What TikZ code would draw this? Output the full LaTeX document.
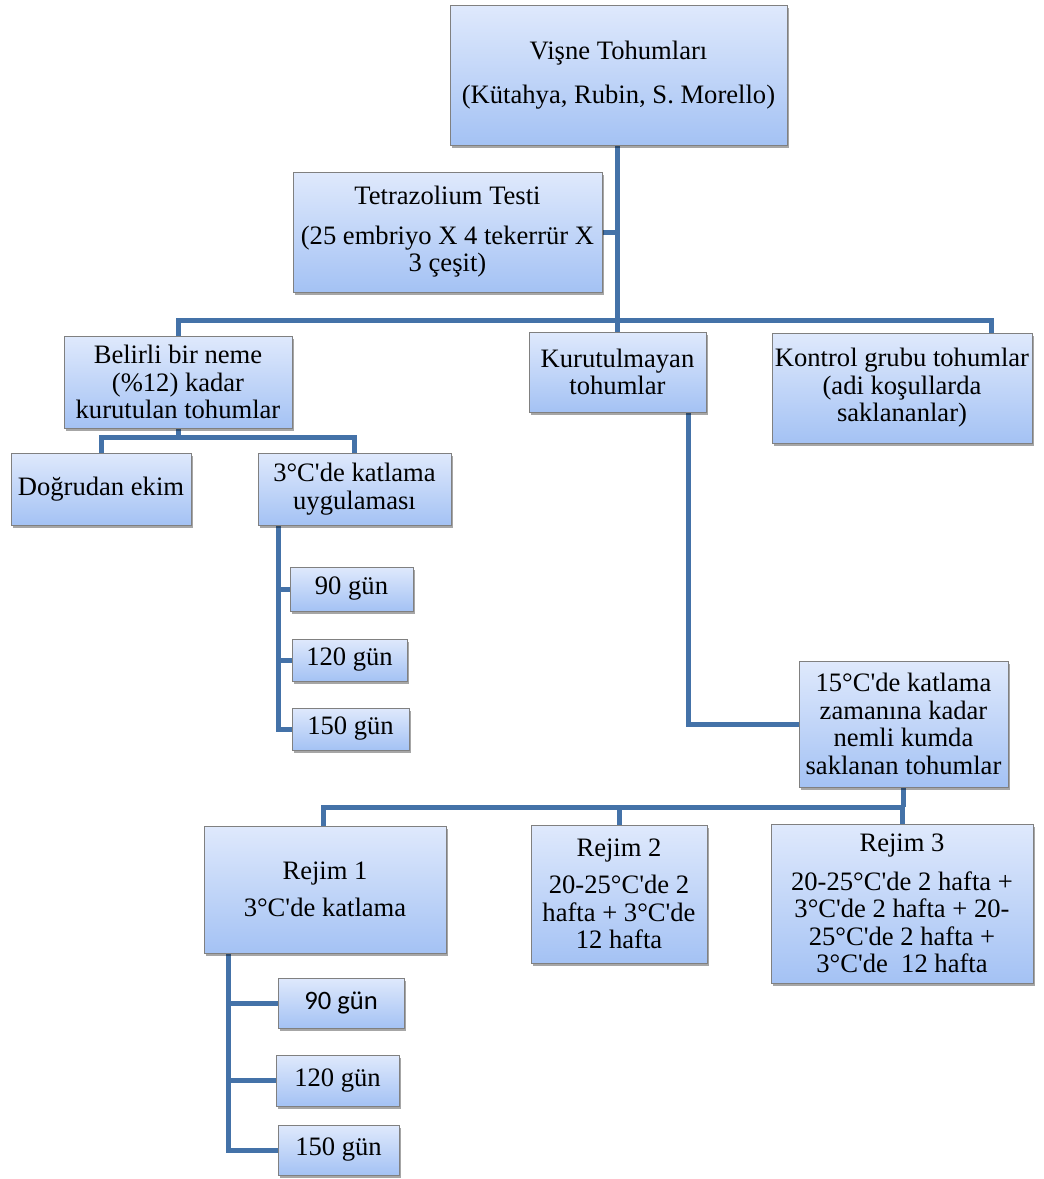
\documentclass[tikz,border=0pt]{standalone}
\usepackage{fontspec}
\setmainfont{Liberation Serif}
\newfontfamily\calib{Carlito}
\newcommand{\apo}{\textquotesingle}
\usetikzlibrary{shadows,backgrounds}
\definecolor{boxtop}{RGB}{223,233,252}
\definecolor{boxbot}{RGB}{164,194,244}
\definecolor{boxline}{RGB}{128,128,128}
\definecolor{connc}{RGB}{68,114,168}
\begin{document}
\begin{tikzpicture}[x=1pt,y=-1pt,
  box/.style={draw=boxline, line width=0.8pt, top color=boxtop, bottom color=boxbot,
    drop shadow={shadow xshift=2pt, shadow yshift=-3pt, opacity=0.35, fill=black},
    align=center, inner sep=0pt, font=\fontsize{26.6}{27.5}\selectfont},
  conn/.style={draw=connc, line width=5pt}]
\useasboundingbox (0,0) rectangle (1044,1179);

\node[box, minimum width=337pt, minimum height=140pt] (root) at (618.5,75) {Vişne Tohumları\\[17pt](Kütahya, Rubin, S. Morello)};
\node[box, minimum width=309pt, minimum height=120pt] (tet) at (447.5,232) {Tetrazolium Testi\\[12pt](25 embriyo X 4 tekerrür X\\3 çeşit)};
\node[box, minimum width=228pt, minimum height=92pt] (bel) at (178,382) {Belirli bir neme\\(\%12) kadar\\kurutulan tohumlar};
\node[box, minimum width=177pt, minimum height=80pt] (kur) at (617.5,372) {Kurutulmayan\\tohumlar};
\node[box, minimum width=260pt, minimum height=110pt] (kon) at (902,388) {Kontrol grubu tohumlar\\(adi koşullarda\\saklananlar)};
\node[box, minimum width=180pt, minimum height=72pt] (dog) at (101,489) {Doğrudan ekim};
\node[box, minimum width=193pt, minimum height=72pt] (kat) at (354.5,489) {3°C\apo de katlama\\uygulaması};
\node[box, minimum width=123pt, minimum height=44pt] (g90a) at (351.5,589) {90 gün};
\node[box, minimum width=115pt, minimum height=42pt] (g120a) at (349.5,660) {120 gün};
\node[box, minimum width=117pt, minimum height=42pt] (g150a) at (350.5,729) {150 gün};
\node[box, minimum width=209pt, minimum height=126pt] (k15) at (903.5,724) {15°C\apo de katlama\\zamanına kadar\\nemli kumda\\saklanan tohumlar};
\node[box, minimum width=242pt, minimum height=127pt] (r1) at (325,889.5) {Rejim 1\\[10pt]3°C\apo de katlama};
\node[box, minimum width=176pt, minimum height=138pt] (r2) at (619,894) {Rejim 2\\[10pt]20-25°C\apo de 2\\hafta + 3°C\apo de\\12 hafta};
\node[box, minimum width=262pt, minimum height=159pt] (r3) at (902,903.5) {Rejim 3\\[11pt]20-25°C\apo de 2 hafta +\\3°C\apo de 2 hafta + 20-\\25°C\apo de 2 hafta +\\3°C\apo de\ \ 12 hafta};
\node[box, minimum width=126pt, minimum height=50pt] (g90b) at (341,1003) {\calib 90 gün};
\node[box, minimum width=123pt, minimum height=51pt] (g120b) at (337.5,1080.5) {120 gün};
\node[box, minimum width=121pt, minimum height=50pt] (g150b) at (338.5,1150) {150 gün};

\coordinate (bus1) at (617,320);
\coordinate (kx) at (991,0);
\coordinate (bus2) at (0,437);
\coordinate (kx2) at (278,0);
\coordinate (kx3) at (688,0);
\coordinate (bus3) at (0,807);
\coordinate (kx4) at (228,0);
\coordinate (kx5) at (323,0);

\begin{scope}[on background layer]
\fill[white] (0,0) rectangle (1044,1179);
\draw[conn] (root.south -| bus1) -- (bus1);
\draw[conn] (tet.east) -- (tet.east -| bus1);
\draw[conn] (bel.north) |- (kx |- bus1) -- (kon.north -| kx);
\draw[conn] (kur.north -| bus1) -- (bus1);
\draw[conn] (bel.south) -- (bel.south |- bus2);
\draw[conn] (dog.north) |- (kat.north |- bus2) -- (kat.north);
\draw[conn] (kat.south -| kx2) |- (g150a.west);
\draw[conn] (g90a.west) -- (g90a.west -| kx2);
\draw[conn] (g120a.west) -- (g120a.west -| kx2);
\draw[conn] (kur.south -| kx3) |- (k15.west);
\draw[conn] (k15.south) -- (k15.south |- bus3);
\draw[conn] (r1.north -| kx5) |- (k15.south |- bus3);
\draw[conn] (r2.north) -- (r2.north |- bus3);
\draw[conn] (r3.north) -- (r3.north |- bus3);
\draw[conn] (r1.south -| kx4) |- (g150b.west);
\draw[conn] (g90b.west) -- (g90b.west -| kx4);
\draw[conn] (g120b.west) -- (g120b.west -| kx4);
\end{scope}
\end{tikzpicture}
\end{document}
